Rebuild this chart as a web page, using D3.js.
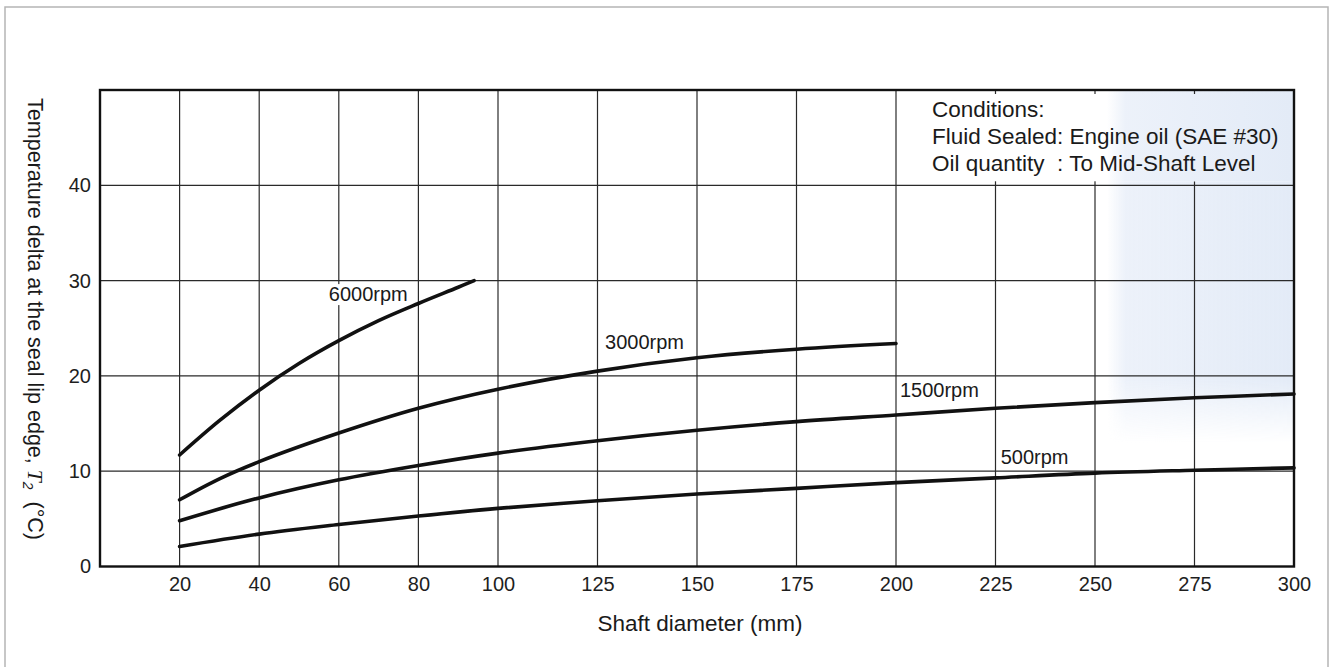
<!DOCTYPE html>
<html>
<head>
<meta charset="utf-8">
<script src="https://cdn.jsdelivr.net/npm/d3@7"></script>
<style>
  html, body { margin: 0; padding: 0; background: #ffffff; }
  svg { display: block; font-family: "Liberation Sans", Arial, Helvetica, sans-serif; }
</style>
</head>
<body>
<svg id="chart" width="1332" height="667"></svg>
<script>
// ---------- data ----------
const xTicks = [20, 40, 60, 80, 100, 125, 150, 175, 200, 225, 250, 275, 300];
const yTicks = [0, 10, 20, 30, 40];
const xGrid = [20, 40, 60, 80, 100, 125, 150, 175, 200, 225, 250, 275];
const yGrid = [10, 20, 30, 40];

const seriesNames = ["6000rpm", "3000rpm", "1500rpm", "500rpm"];

const d6000x = [20, 30, 40, 50, 60, 70, 80, 90, 94];
const d6000y = [11.7, 15.3, 18.5, 21.3, 23.7, 25.8, 27.6, 29.3, 30.0];

const d3000x = [20, 30, 40, 60, 80, 100, 125, 150, 175, 200];
const d3000y = [7.0, 9.2, 11.0, 14.0, 16.6, 18.6, 20.5, 21.9, 22.8, 23.4];

const d1500x = [20, 40, 60, 80, 100, 125, 150, 175, 200, 225, 250, 275, 300];
const d1500y = [4.8, 7.2, 9.1, 10.6, 11.9, 13.2, 14.3, 15.2, 15.9, 16.6, 17.2, 17.7, 18.1];

const d500x = [20, 40, 60, 80, 100, 125, 150, 175, 200, 225, 250, 275, 300];
const d500y = [2.1, 3.4, 4.4, 5.3, 6.1, 6.9, 7.6, 8.2, 8.8, 9.3, 9.8, 10.1, 10.35];

// label anchors (data units: shaft diameter, temperature at baseline)
const labelX = [57.5, 126.9, 201, 226.3];
const labelY = [27.85, 22.87, 17.8, 10.78];

const conditionLines = [
  "Conditions:",
  "Fluid Sealed: Engine oil (SAE #30)",
  "Oil quantity\u00A0 : To Mid-Shaft Level"
];

const xTitle = "Shaft diameter (mm)";

// ---------- layout ----------
const svg = d3.select("#chart");
const pL = 100, pR = 1294, pT = 90, pB = 566.5;

const x = d3.scaleLinear().domain([0, 300]).range([pL, pR]);
const y = d3.scaleLinear().domain([0, 50]).range([pB, pT]);

// outer page frame (scan border)
svg.append("path")
  .attr("d", "M5,667 L5,7 L1328,7 L1328,667")
  .attr("stroke", "#b5b5b5").attr("stroke-width", 1.5).attr("fill", "none");

// faint blue scan tint at right
const defs = svg.append("defs");
const grad = defs.append("linearGradient").attr("id", "tint").attr("x1", 0).attr("x2", 1).attr("y1", 0).attr("y2", 0);
grad.append("stop").attr("offset", "0%").attr("stop-color", "#e9eff9").attr("stop-opacity", 0);
grad.append("stop").attr("offset", "10%").attr("stop-color", "#e9eff9").attr("stop-opacity", 0.85);
grad.append("stop").attr("offset", "100%").attr("stop-color", "#e3ebf7").attr("stop-opacity", 1);
const gradV = defs.append("linearGradient").attr("id", "tintMask").attr("x1", 0).attr("x2", 0).attr("y1", 0).attr("y2", 1);
gradV.append("stop").attr("offset", "0%").attr("stop-color", "#fff");
gradV.append("stop").attr("offset", "82%").attr("stop-color", "#fff");
gradV.append("stop").attr("offset", "100%").attr("stop-color", "#000");
const mask = defs.append("mask").attr("id", "tm");
mask.append("rect").attr("x", x(253)).attr("y", pT).attr("width", pR - x(253)).attr("height", y(13) - pT).attr("fill", "url(#tintMask)");
svg.append("rect")
  .attr("x", x(253)).attr("y", pT)
  .attr("width", pR - x(253)).attr("height", y(13) - pT)
  .attr("fill", "url(#tint)")
  .attr("mask", "url(#tm)");

// grid lines
const grid = svg.append("g").attr("stroke", "#2a2a2a").attr("stroke-width", 1.2);
grid.selectAll("line.vx").data(xGrid).join("line")
  .attr("class", "vx")
  .attr("x1", d => x(d)).attr("x2", d => x(d))
  .attr("y1", pT).attr("y2", pB);
grid.selectAll("line.hy").data(yGrid).join("line")
  .attr("class", "hy")
  .attr("x1", pL).attr("x2", pR)
  .attr("y1", d => y(d)).attr("y2", d => y(d));

// conditions box masks grid lines
svg.append("rect")
  .attr("x", x(203)).attr("y", pT + 4)
  .attr("width", pR - 3 - x(203)).attr("height", y(40) - pT - 8)
  .attr("fill", "#ffffff");
svg.append("rect")
  .attr("x", x(253)).attr("y", pT + 4)
  .attr("width", pR - 3 - x(253)).attr("height", y(40) - pT - 8)
  .attr("fill", "url(#tint)");

// axes labels via d3 axes (no domain lines)
const xAxis = svg.append("g")
  .attr("transform", `translate(0,${pB})`)
  .call(d3.axisBottom(x).tickValues(xTicks).tickSize(0).tickPadding(10).tickFormat(d3.format("d")));
xAxis.select(".domain").remove();
xAxis.selectAll("text").attr("font-size", 20).attr("fill", "#1e1e1e")
  .attr("font-family", "Liberation Sans, Arial, sans-serif");

const yAxis = svg.append("g")
  .attr("transform", `translate(${pL},0)`)
  .call(d3.axisLeft(y).tickValues(yTicks).tickSize(0).tickPadding(9).tickFormat(d3.format("d")));
yAxis.select(".domain").remove();
yAxis.selectAll("text").attr("font-size", 20).attr("fill", "#1e1e1e")
  .attr("font-family", "Liberation Sans, Arial, sans-serif");

// curves
const series = [
  { name: seriesNames[0], xs: d6000x, ys: d6000y },
  { name: seriesNames[1], xs: d3000x, ys: d3000y },
  { name: seriesNames[2], xs: d1500x, ys: d1500y },
  { name: seriesNames[3], xs: d500x, ys: d500y }
];
const line = d3.line()
  .x(d => x(d[0])).y(d => y(d[1]))
  .curve(d3.curveCatmullRom.alpha(0.5));

svg.append("g").selectAll("path").data(series).join("path")
  .attr("d", s => line(s.xs.map((v, i) => [v, s.ys[i]])))
  .attr("fill", "none")
  .attr("stroke", "#111")
  .attr("stroke-width", 3.6)
  .attr("stroke-linecap", "round")
  .attr("stroke-linejoin", "round");

// curve labels with white knockout
const labG = svg.append("g");
seriesNames.forEach((name, i) => {
  const g = labG.append("g");
  const t = g.append("text")
    .attr("x", x(labelX[i])).attr("y", y(labelY[i]))
    .attr("font-size", 20).attr("fill", "#1a1a1a")
    .text(name);
  const bb = t.node().getBBox();
  g.insert("rect", "text")
    .attr("x", bb.x - 2).attr("y", bb.y + 1)
    .attr("width", bb.width + 4).attr("height", bb.height - 1)
    .attr("fill", "#ffffff");
});

// plot frame
svg.append("rect")
  .attr("x", pL).attr("y", pT)
  .attr("width", pR - pL).attr("height", pB - pT)
  .attr("fill", "none").attr("stroke", "#111").attr("stroke-width", 2.4);

// conditions text
svg.append("g").selectAll("text").data(conditionLines).join("text")
  .attr("x", 932)
  .attr("y", (d, i) => 117 + i * 27)
  .attr("font-size", 22.5)
  .attr("fill", "#1a1a1a")
  .text(d => d);

// x title
svg.append("text")
  .attr("x", 700).attr("y", 631)
  .attr("text-anchor", "middle")
  .attr("font-size", 22.5).attr("fill", "#1a1a1a")
  .text(xTitle);

// y title
const yt = svg.append("text")
  .attr("transform", "translate(28,319) rotate(90)")
  .attr("text-anchor", "middle")
  .attr("font-size", 21.5).attr("fill", "#1a1a1a");
yt.append("tspan").text("Temperature delta at the seal lip edge, ");
yt.append("tspan").attr("font-style", "italic").attr("font-family", "Liberation Serif, serif").text("T");
yt.append("tspan").attr("font-style", "italic").attr("font-size", 14).attr("dy", 5).text("2");
yt.append("tspan").attr("dy", -5).text("\u00A0 (°C)");
</script>
</body>
</html>
